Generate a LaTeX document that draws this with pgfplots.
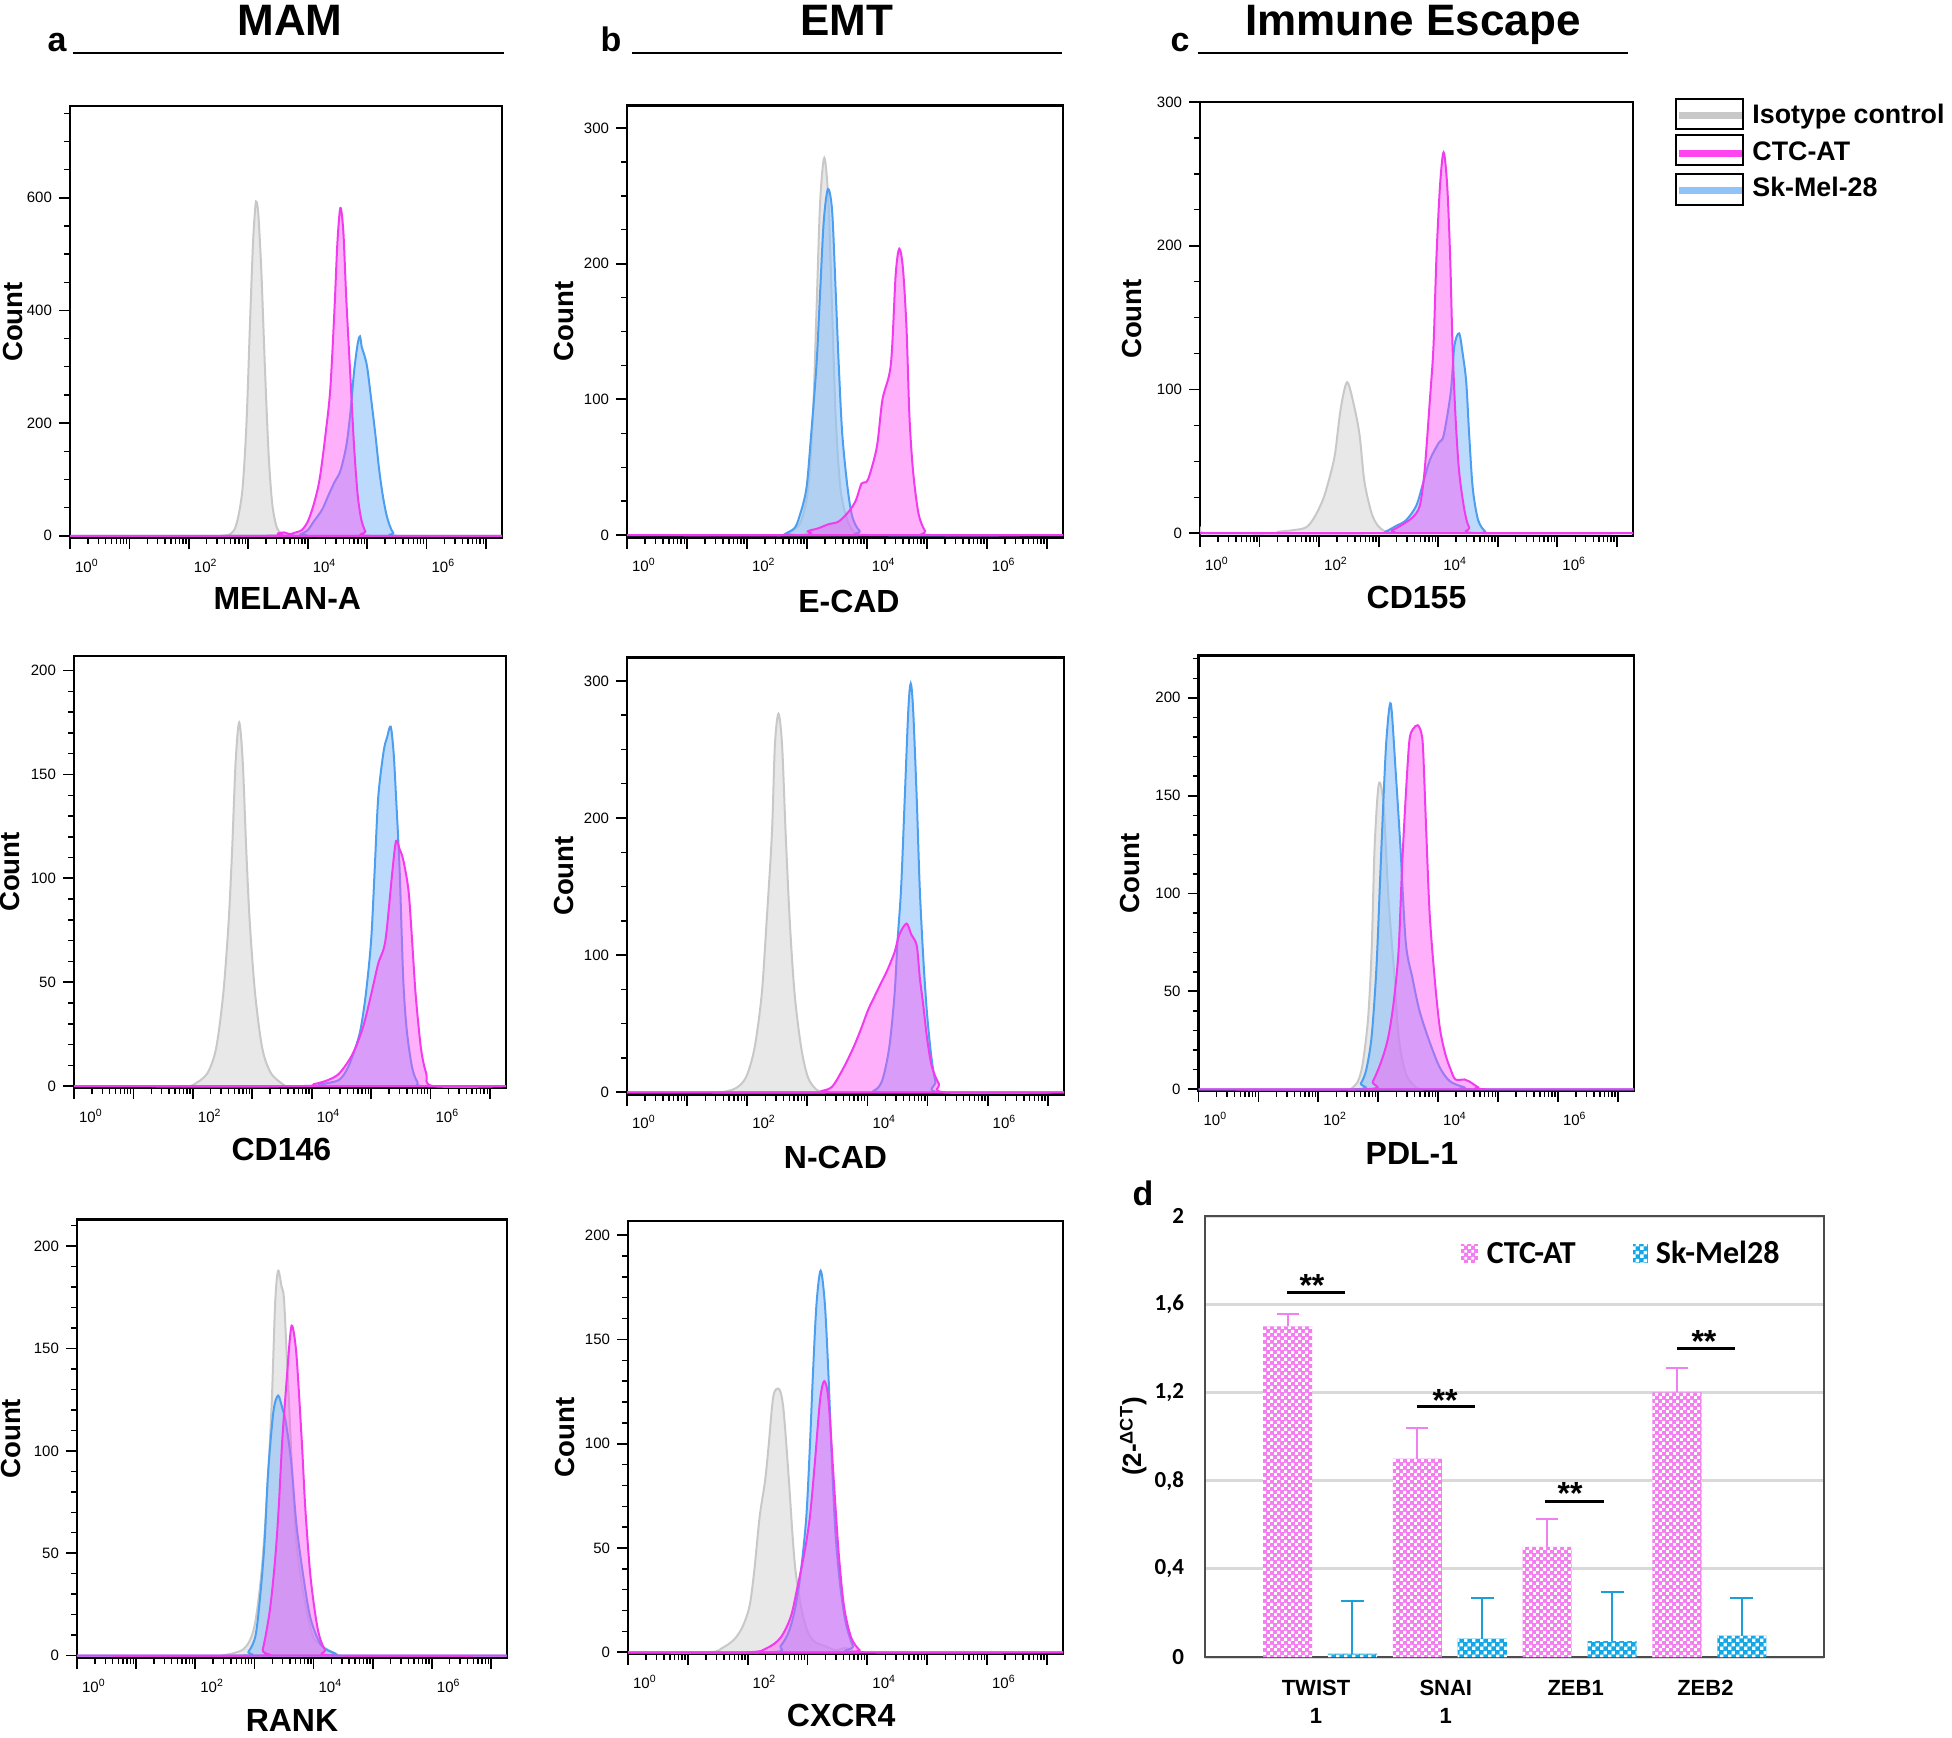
\documentclass[border=0pt]{standalone}
\usepackage{pgfplots}
\pgfplotsset{compat=1.18}
\usepackage{fontspec}
\setmainfont{Liberation Sans}
\newfontfamily\calfont{Carlito}
\usetikzlibrary{patterns}
\definecolor{isofill}{HTML}{E8E8E8}
\definecolor{isoline}{HTML}{C8C8C8}
\definecolor{ctcfill}{RGB}{255,80,247}
\definecolor{ctcline}{HTML}{F23AEE}
\definecolor{skfill}{RGB}{140,192,248}
\definecolor{skline}{HTML}{4C9EF0}
\definecolor{legiso}{HTML}{C8C8C8}
\definecolor{legctc}{HTML}{FF44F0}
\definecolor{legsk}{HTML}{90C4F8}
\definecolor{pinkbar}{HTML}{F47EF0}
\definecolor{bluebar}{HTML}{10A8E6}
\definecolor{pinkerr}{HTML}{F080F0}
\definecolor{blueerr}{HTML}{1AA0D8}
\definecolor{gridgray}{HTML}{D9D9D9}

\pgfdeclarepatternformonly{pinkcheck}{\pgfqpoint{0pt}{0pt}}{\pgfqpoint{3.6pt}{3.6pt}}{\pgfqpoint{3.6pt}{3.6pt}}{%
  \pgfpathrectangle{\pgfqpoint{0pt}{0pt}}{\pgfqpoint{1.6pt}{1.6pt}}%
  \pgfpathrectangle{\pgfqpoint{1.8pt}{1.8pt}}{\pgfqpoint{1.6pt}{1.6pt}}%
  \pgfusepath{fill}}
\pgfdeclarepatternformonly{bluecheck}{\pgfqpoint{0pt}{0pt}}{\pgfqpoint{4pt}{4pt}}{\pgfqpoint{4pt}{4pt}}{%
  \pgfpathrectangle{\pgfqpoint{0pt}{0pt}}{\pgfqpoint{1.9pt}{1.9pt}}%
  \pgfpathrectangle{\pgfqpoint{2pt}{2pt}}{\pgfqpoint{1.9pt}{1.9pt}}%
  \pgfusepath{fill}}

\pgfplotsset{
  flow/.style={
    scale only axis, anchor=north west,
    xmin=0, xmax=7.27,
    axis line style={line width=1.1pt},
    tick align=outside, tick pos=left,
    major tick length=5.5pt, minor tick length=3pt,
    every major tick/.append style={line width=0.9pt,black},
    every minor tick/.append style={line width=0.7pt,black},
    xtick={0,1,2,3,4,5,6,7},
    xticklabels={10\textsuperscript{0},,10\textsuperscript{2},,10\textsuperscript{4},,10\textsuperscript{6},},
    minor xtick={0.301,0.477,0.602,0.699,0.778,0.845,0.903,0.954,
      1.301,1.477,1.602,1.699,1.778,1.845,1.903,1.954,
      2.301,2.477,2.602,2.699,2.778,2.845,2.903,2.954,
      3.301,3.477,3.602,3.699,3.778,3.845,3.903,3.954,
      4.301,4.477,4.602,4.699,4.778,4.845,4.903,4.954,
      5.301,5.477,5.602,5.699,5.778,5.845,5.903,5.954,
      6.301,6.477,6.602,6.699,6.778,6.845,6.903,6.954},
    tick label style={font=\fontsize{7.5}{8}\selectfont},
    xticklabel style={anchor=north west, xshift=-1pt, yshift=-1.5pt},
    ylabel={Count},
    ylabel style={font=\bfseries\fontsize{13.8}{15}\selectfont, at={(axis description cs:-0.15,0.5)}, anchor=center},
    xlabel style={font=\bfseries\fontsize{16}{18}\selectfont, at={(axis description cs:0.5,-0.143)}, anchor=center},
    every axis plot/.append style={smooth, tension=0.5, line width=1pt},
  },
  iso/.style={draw=isoline, fill=isofill},
  ctc/.style={draw=ctcline, fill=ctcfill, fill opacity=0.45, draw opacity=1},
  sk/.style={draw=skline, fill=skfill, fill opacity=0.58, draw opacity=1},
}

\begin{document}
\begin{tikzpicture}
\path[use as bounding box] (0pt,0pt) rectangle (976pt,-868.5pt);

% ---------- titles ----------
\node[anchor=base, font=\bfseries\fontsize{22}{24}\selectfont] at (145pt,-17.8pt) {MAM};
\node[anchor=base, font=\bfseries\fontsize{22}{24}\selectfont] at (423.25pt,-17.8pt) {EMT};
\node[anchor=base, font=\bfseries\fontsize{22}{24}\selectfont] at (706.5pt,-17.8pt) {Immune Escape};
\node[anchor=base, font=\bfseries\fontsize{17}{19}\selectfont] at (28.5pt,-25.5pt) {a};
\node[anchor=base, font=\bfseries\fontsize{17}{19}\selectfont] at (305.5pt,-25.5pt) {b};
\node[anchor=base, font=\bfseries\fontsize{17}{19}\selectfont] at (590pt,-25.5pt) {c};
\node[anchor=base, font=\bfseries\fontsize{17}{19}\selectfont] at (571.5pt,-602.5pt) {d};
\draw[line width=1pt] (36.25pt,-26.3pt) -- (251.8pt,-26.3pt);
\draw[line width=1pt] (316pt,-26.3pt) -- (531pt,-26.3pt);
\draw[line width=1pt] (598.8pt,-26.3pt) -- (814pt,-26.3pt);

% ---------- legend ----------
\draw[line width=0.8pt] (838pt,-49.5pt) rectangle (871.5pt,-64.5pt);
\draw[line width=0.8pt] (838pt,-67.5pt) rectangle (871.5pt,-82.5pt);
\draw[line width=0.8pt] (838pt,-87pt) rectangle (871.5pt,-102.5pt);
\draw[legiso, line width=3.5pt] (839.3pt,-57.5pt) -- (871pt,-57.5pt);
\draw[legctc, line width=3.5pt] (839.3pt,-76.7pt) -- (871pt,-76.7pt);
\draw[legsk, line width=3.5pt] (839.3pt,-95pt) -- (871pt,-95pt);
\node[anchor=base west, inner sep=0pt, font=\bfseries\fontsize{13.4}{15}\selectfont] at (876pt,-61.7pt) {Isotype control};
\node[anchor=base west, inner sep=0pt, font=\bfseries\fontsize{13.4}{15}\selectfont] at (876pt,-80pt) {CTC-AT};
\node[anchor=base west, inner sep=0pt, font=\bfseries\fontsize{13.4}{15}\selectfont] at (876pt,-98.3pt) {Sk-Mel-28};

% ---------- a1 MELAN-A ----------
\begin{axis}[flow, at={(35pt,-53pt)}, width=216pt, height=216pt,
  ymin=-4, ymax=763, ytick={0,200,400,600}, yticklabels={0,200,400,600},
  minor ytick={0,50,...,750}, xlabel={MELAN-A}, xlabel style={at={(axis description cs:0.503,-0.141)}},
  ylabel style={at={(axis description cs:-0.133,0.5)}}]
\addplot[iso] coordinates {(2.55,0) (2.7,3) (2.8,20) (2.9,80) (2.97,200) (3.03,380) (3.08,520) (3.12,585) (3.14,593) (3.17,570) (3.22,470) (3.28,300) (3.34,150) (3.4,60) (3.47,18) (3.55,4) (3.65,0)} \closedcycle;
\addplot[sk] coordinates {(0,0) (3.7,0) (3.88,3) (4.0,10) (4.1,25) (4.24,46) (4.35,72) (4.45,95) (4.55,115) (4.65,160) (4.72,220) (4.78,291) (4.84,340) (4.88,354) (4.91,335) (4.95,322) (5.0,300) (5.06,250) (5.14,179) (5.2,120) (5.26,74) (5.32,40) (5.38,18) (5.44,5) (5.5,0) (7.27,0)} \closedcycle;
\addplot[ctc] coordinates {(0,0) (3.3,0) (3.5,4) (3.6,6) (3.7,3) (3.8,6) (3.9,10) (4.0,25) (4.1,55) (4.2,100) (4.3,180) (4.38,260) (4.45,400) (4.5,520) (4.55,582) (4.6,540) (4.65,420) (4.72,280) (4.78,160) (4.84,74) (4.9,30) (4.97,8) (5.05,0) (7.27,0)} \closedcycle;
\end{axis}

% ---------- b1 E-CAD ----------
\begin{axis}[flow, at={(313.5pt,-52.75pt)}, width=218pt, height=216pt,
  ymin=-1.8, ymax=316.6, ytick={0,100,200,300}, yticklabels={0,100,200,300},
  minor ytick={0,25,...,300}, xlabel={E-CAD}, xlabel style={at={(axis description cs:0.509,-0.147)}},
  ylabel style={at={(axis description cs:-0.144,0.5)}}]
\addplot[iso] coordinates {(2.6,0) (2.75,3) (2.9,10) (3.02,34) (3.1,87) (3.16,166) (3.22,245) (3.29,278) (3.36,245) (3.42,166) (3.48,87) (3.56,34) (3.68,10) (3.82,0)} \closedcycle;
\addplot[sk] coordinates {(0,0) (2.6,0) (2.64,1) (2.79,5) (2.87,13) (2.99,34) (3.07,74) (3.16,126) (3.22,179) (3.28,231) (3.35,255) (3.42,239) (3.48,179) (3.53,126) (3.59,74) (3.68,34) (3.76,13) (3.88,3) (4.05,0) (7.27,0)} \closedcycle;
\addplot[ctc] coordinates {(0,0) (2.84,0) (3.02,3) (3.19,5) (3.36,8) (3.53,10) (3.71,18) (3.82,26) (3.91,38) (3.99,39) (4.05,45) (4.17,66) (4.26,100) (4.4,126) (4.48,192) (4.54,211) (4.6,197) (4.66,153) (4.71,87) (4.77,47) (4.86,16) (4.97,3) (5.09,0) (7.27,0)} \closedcycle;
\end{axis}

% ---------- c1 CD155 ----------
\begin{axis}[flow, at={(600pt,-51pt)}, width=216.5pt, height=217pt,
  ymin=-2, ymax=300, ytick={0,100,200,300}, yticklabels={0,100,200,300},
  minor ytick={0,25,...,300}, xlabel={CD155}, xlabel style={at={(axis description cs:0.5,-0.142)}},
  ylabel style={at={(axis description cs:-0.158,0.5)}}]
\addplot[iso] coordinates {(0,3) (0.1,0) (1.2,0) (1.32,1) (1.55,2) (1.78,4) (1.92,11) (2.07,24) (2.19,41) (2.27,56) (2.36,86) (2.47,105) (2.59,88) (2.68,68) (2.76,36) (2.88,14) (2.99,5) (3.14,0)} \closedcycle;
\addplot[sk] coordinates {(0,0) (2.95,0) (3.11,1) (3.29,5) (3.46,9) (3.63,19) (3.74,34) (3.86,51) (4.01,63) (4.09,68) (4.21,98) (4.27,130) (4.35,139) (4.41,125) (4.47,105) (4.52,68) (4.58,31) (4.67,9) (4.79,1) (4.87,0) (7.27,0)} \closedcycle;
\addplot[ctc] coordinates {(0,0) (3.0,0) (3.22,2) (3.4,6) (3.57,11) (3.69,19) (3.77,43) (3.86,93) (3.92,130) (3.97,192) (4.03,242) (4.09,265) (4.15,242) (4.2,192) (4.24,130) (4.29,81) (4.35,43) (4.44,16) (4.52,4) (4.67,0) (7.27,0)} \closedcycle;
\end{axis}

% ---------- a2 CD146 ----------
\begin{axis}[flow, at={(37pt,-328pt)}, width=216pt, height=216pt,
  ymin=-0.9, ymax=207, ytick={0,50,100,150,200}, yticklabels={0,50,100,150,200},
  minor ytick={0,10,...,200}, xlabel={CD146}, xlabel style={at={(axis description cs:0.48,-0.143)}},
  ylabel style={at={(axis description cs:-0.147,0.5)}}]
\addplot[iso] coordinates {(1.95,0) (2.03,1) (2.24,6) (2.39,18) (2.51,44) (2.6,78) (2.66,113) (2.72,156) (2.78,175) (2.84,156) (2.9,113) (2.96,78) (3.05,44) (3.17,18) (3.32,6) (3.56,0)} \closedcycle;
\addplot[sk] coordinates {(0,0) (3.86,0) (4.16,1) (4.46,3) (4.61,9) (4.73,18) (4.82,27) (4.91,44) (5.0,70) (5.06,104) (5.12,139) (5.21,161) (5.27,168) (5.33,173) (5.38,160) (5.42,139) (5.48,104) (5.54,52) (5.6,27) (5.69,9) (5.78,2) (5.9,0) (7.27,0)} \closedcycle;
\addplot[ctc] coordinates {(0,0) (3.68,0) (4.04,1) (4.28,3) (4.46,6) (4.64,13) (4.76,20) (4.88,30) (5.0,44) (5.12,59) (5.24,70) (5.36,104) (5.42,118) (5.48,114) (5.54,109) (5.63,94) (5.69,70) (5.75,44) (5.84,18) (5.93,6) (6.05,0) (7.27,0)} \closedcycle;
\end{axis}

% ---------- b2 N-CAD ----------
\begin{axis}[flow, at={(313.5pt,-328.75pt)}, width=218.5pt, height=218.5pt,
  ymin=-1.6, ymax=317, ytick={0,100,200,300}, yticklabels={0,100,200,300},
  minor ytick={0,25,...,300}, xlabel={N-CAD}, xlabel style={at={(axis description cs:0.477,-0.143)}},
  ylabel style={at={(axis description cs:-0.144,0.5)}}]
\addplot[iso] coordinates {(1.58,0) (1.81,3) (1.98,11) (2.12,32) (2.24,71) (2.32,123) (2.41,188) (2.46,253) (2.52,276) (2.58,253) (2.64,188) (2.71,123) (2.79,71) (2.9,32) (3.01,11) (3.15,2) (3.3,0)} \closedcycle;
\addplot[sk] coordinates {(0,0) (3.9,0) (4.1,1) (4.24,8) (4.36,32) (4.45,71) (4.5,110) (4.56,149) (4.62,214) (4.68,279) (4.72,298) (4.76,279) (4.82,214) (4.87,149) (4.93,97) (4.99,58) (5.06,27) (5.13,8) (5.22,0) (7.27,0)} \closedcycle;
\addplot[ctc] coordinates {(0,0) (3.13,0) (3.24,1) (3.41,4) (3.58,16) (3.76,32) (3.9,47) (4.01,60) (4.13,71) (4.24,81) (4.33,89) (4.45,102) (4.53,115) (4.65,123) (4.73,115) (4.82,107) (4.87,84) (4.93,63) (4.99,40) (5.07,19) (5.19,6) (5.31,0) (7.27,0)} \closedcycle;
\end{axis}

% ---------- c2 PDL-1 ----------
\begin{axis}[flow, at={(599.25pt,-327.75pt)}, width=217.75pt, height=217.75pt,
  ymin=-0.9, ymax=221.6, ytick={0,50,100,150,200}, yticklabels={0,50,100,150,200},
  minor ytick={0,10,...,220}, xlabel={PDL-1}, xlabel style={at={(axis description cs:0.49,-0.143)}},
  ylabel style={at={(axis description cs:-0.157,0.5)}}]
\addplot[iso] coordinates {(2.54,0) (2.66,4) (2.74,13) (2.83,36) (2.89,71) (2.94,124) (3.01,156) (3.09,145) (3.17,98) (3.26,62) (3.34,27) (3.46,8) (3.63,1) (3.75,0)} \closedcycle;
\addplot[sk] coordinates {(0,0) (2.6,0) (2.71,3) (2.8,10) (2.89,27) (2.97,62) (3.03,106) (3.09,150) (3.14,180) (3.21,197) (3.29,163) (3.37,124) (3.46,75) (3.57,57) (3.69,40) (3.86,24) (4.03,11) (4.2,4) (4.44,1) (4.55,0) (7.27,0)} \closedcycle;
\addplot[ctc] coordinates {(0,0) (2.78,0) (2.91,4) (3.06,15) (3.17,27) (3.26,45) (3.34,71) (3.4,115) (3.46,150) (3.52,178) (3.58,184) (3.66,186) (3.72,182) (3.75,173) (3.8,133) (3.86,89) (3.95,54) (4.03,31) (4.12,18) (4.21,10) (4.29,5) (4.44,5) (4.52,4) (4.67,1) (4.8,0) (7.27,0)} \closedcycle;
\end{axis}

% ---------- a3 RANK ----------
\begin{axis}[flow, at={(38.5pt,-609.75pt)}, width=215pt, height=219.25pt,
  ymin=-1.2, ymax=213, ytick={0,50,100,150,200}, yticklabels={0,50,100,150,200},
  minor ytick={0,10,...,210}, xlabel={RANK}, xlabel style={at={(axis description cs:0.5,-0.143)}},
  ylabel style={at={(axis description cs:-0.154,0.5)}}]
\addplot[iso] coordinates {(2.44,0) (2.81,3) (2.99,13) (3.11,38) (3.2,72) (3.29,122) (3.35,172) (3.4,188) (3.46,180) (3.5,174) (3.56,139) (3.71,55) (3.95,13) (4.13,5) (4.44,0)} \closedcycle;
\addplot[sk] coordinates {(0,0) (2.75,0) (2.9,2) (3.02,10) (3.1,30) (3.17,55) (3.23,89) (3.32,119) (3.4,127) (3.47,121) (3.53,114) (3.62,95) (3.71,64) (3.83,38) (3.95,18) (4.13,5) (4.37,1) (4.5,0) (7.27,0)} \closedcycle;
\addplot[ctc] coordinates {(0,0) (3.05,0) (3.14,3) (3.26,22) (3.35,47) (3.41,72) (3.47,105) (3.53,129) (3.6,155) (3.64,161) (3.71,147) (3.8,105) (3.86,72) (3.95,38) (4.07,13) (4.19,3) (4.37,0) (7.27,0)} \closedcycle;
\end{axis}

% ---------- b3 CXCR4 ----------
\begin{axis}[flow, at={(314pt,-610.5pt)}, width=217.5pt, height=216.5pt,
  ymin=-0.85, ymax=206.8, ytick={0,50,100,150,200}, yticklabels={0,50,100,150,200},
  minor ytick={0,10,...,200}, xlabel={CXCR4}, xlabel style={at={(axis description cs:0.49,-0.143)}},
  ylabel style={at={(axis description cs:-0.144,0.5)}}]
\addplot[iso] coordinates {(0,0) (1.34,0) (1.57,2) (1.77,6) (1.91,12) (2.03,22) (2.11,39) (2.2,65) (2.29,82) (2.35,99) (2.43,123) (2.53,126) (2.6,116) (2.69,82) (2.75,56) (2.8,39) (2.89,22) (3.0,10) (3.12,5) (3.29,3) (3.47,1) (3.64,2) (3.8,0)} \closedcycle;
\addplot[sk] coordinates {(0,0) (2.37,0) (2.55,3) (2.69,10) (2.8,22) (2.89,39) (2.98,65) (3.04,99) (3.09,133) (3.15,167) (3.22,183) (3.29,167) (3.35,133) (3.41,90) (3.47,56) (3.55,31) (3.64,14) (3.76,3) (3.87,0) (7.27,0)} \closedcycle;
\addplot[ctc] coordinates {(0,0) (1.97,0) (2.32,2) (2.55,7) (2.72,17) (2.83,31) (2.95,48) (3.04,65) (3.12,90) (3.21,121) (3.28,130) (3.35,121) (3.44,82) (3.52,48) (3.61,22) (3.73,7) (3.87,1) (3.95,0) (7.27,0)} \closedcycle;
\end{axis}

% ---------- d bar chart ----------
\begin{axis}[scale only axis, anchor=north west, at={(602.5pt,-608pt)},
  width=309.5pt, height=220.5pt,
  xmin=-0.886, xmax=3.883, ymin=0, ymax=2,
  axis line style={black!70, line width=0.8pt},
  ytick={0,0.4,0.8,1.2,1.6,2},
  yticklabels={0,{0,4},{0,8},{1,2},{1,6},2},
  ymajorgrids, grid style={line width=1.5pt, color=gridgray},
  major tick length=0pt,
  xtick={0,1,2,3},
  xticklabels={TWIST\\1,SNAI\\1,ZEB1,ZEB2},
  xticklabel style={align=center, font=\bfseries\fontsize{11}{14.25}\selectfont, yshift=-8pt, xshift=-2pt},
  yticklabel style={font=\calfont\bfseries\fontsize{11.5}{13}\selectfont, xshift=-7pt},
  ylabel={(2-\textsuperscript{ΔCT})},
  ylabel style={font=\bfseries\fontsize{13}{15}\selectfont, at={(axis description cs:-0.116,0.5)}, anchor=center},
]
\addplot[ybar, bar width=0.378, bar shift=0pt, fill=pinkbar, draw=none,
  postaction={pattern=pinkcheck, pattern color=white},
  error bars/.cd, y dir=plus, y explicit,
  error bar style={color=pinkerr, line width=1pt},
  error mark options={rotate=90, mark size=5.5pt, line width=1pt, color=pinkerr}]
  coordinates {(-0.25,1.5) +- (0,0.055) (0.75,0.9) +- (0,0.14) (1.75,0.5) +- (0,0.125) (2.75,1.2) +- (0,0.11)};
\addplot[ybar, bar width=0.378, bar shift=0pt, fill=bluebar, draw=none,
  postaction={pattern=bluecheck, pattern color=white},
  error bars/.cd, y dir=plus, y explicit,
  error bar style={color=blueerr, line width=1pt},
  error mark options={rotate=90, mark size=5.75pt, line width=1pt, color=blueerr}]
  coordinates {(0.25,0.015) +- (0,0.24) (1.25,0.084) +- (0,0.184) (2.25,0.072) +- (0,0.222) (3.25,0.097) +- (0,0.171)};
\draw[line width=1.5pt] (-0.254,1.655) -- (0.193,1.655);
\draw[line width=1.5pt] (0.745,1.134) -- (1.194,1.134);
\draw[line width=1.5pt] (1.734,0.707) -- (2.188,0.707);
\draw[line width=1.5pt] (2.754,1.397) -- (3.2,1.397);
\node[font=\bfseries\fontsize{16}{17}\selectfont] at (-0.062,1.685) {**};
\node[font=\bfseries\fontsize{16}{17}\selectfont] at (0.963,1.165) {**};
\node[font=\bfseries\fontsize{16}{17}\selectfont] at (1.926,0.74) {**};
\node[font=\bfseries\fontsize{16}{17}\selectfont] at (2.958,1.43) {**};
\end{axis}

% bar legend
\fill[pinkbar] (730.5pt,-622pt) rectangle (739pt,-631.5pt);
\fill[pattern=pinkcheck, pattern color=white] (730.5pt,-622pt) rectangle (739pt,-631.5pt);
\node[anchor=base west, inner sep=0pt, font=\calfont\bfseries\fontsize{16}{17}\selectfont] at (743.25pt,-631.8pt) {CTC-AT};
\fill[bluebar] (816.3pt,-622pt) rectangle (824pt,-631.5pt);
\fill[pattern=bluecheck, pattern color=white] (816.3pt,-622pt) rectangle (824pt,-631.5pt);
\node[anchor=base west, inner sep=0pt, font=\calfont\bfseries\fontsize{16}{17}\selectfont] at (827.75pt,-631.8pt) {Sk-Mel28};
\end{tikzpicture}
\end{document}
